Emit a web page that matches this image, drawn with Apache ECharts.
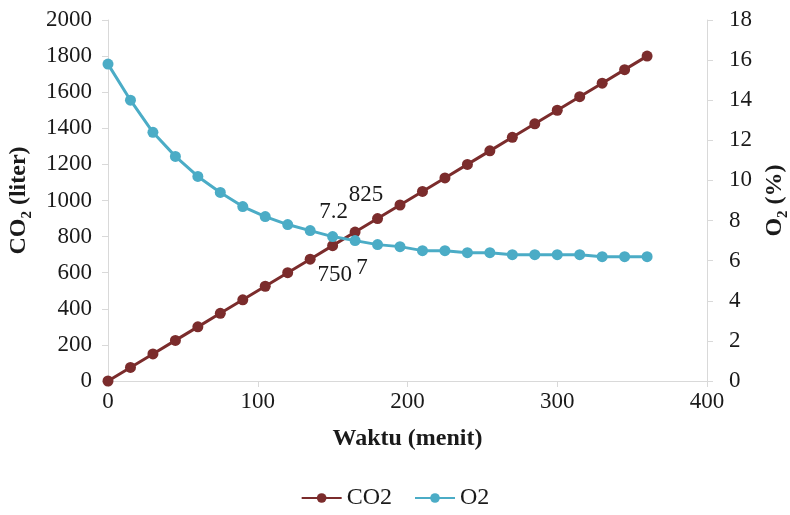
<!DOCTYPE html>
<html>
<head>
<meta charset="utf-8">
<script src="https://cdn.jsdelivr.net/npm/echarts@6/dist/echarts.min.js"></script>
<style>html,body{margin:0;padding:0;background:#fff}#c{width:790px;height:515px}</style>
</head>
<body>
<div id="c"></div>
<script>
var time = [0,15,30,45,60,75,90,105,120,135,150,165,180,195,210,225,240,255,270,285,300,315,330,345,360];
var co2 = [0,75,150,225,300,375,450,525,600,675,750,825,900,975,1050,1125,1200,1275,1350,1425,1500,1575,1650,1725,1800];
var o2 = [15.8,14.0,12.4,11.2,10.2,9.4,8.7,8.2,7.8,7.5,7.2,7.0,6.8,6.7,6.5,6.5,6.4,6.4,6.3,6.3,6.3,6.3,6.2,6.2,6.2];
var xTicks = [0,100,200,300,400];
var leftTicks = [0,200,400,600,800,1000,1200,1400,1600,1800,2000];
var rightTicks = [0,2,4,6,8,10,12,14,16,18];

var FONT = '"Liberation Serif","Times New Roman",serif';
var TXT = '#1a1a1a';
var AX = '#d9d9d9';
var C_CO2 = '#7b2c2c';
var C_O2 = '#4bacc6';
var FS = 23;

var co2Labels = {10: [2, 29], 11: [11, -37]};
var o2Labels = {10: [1, -25], 11: [7, 27]};

function build(vals, labels) {
  return vals.map(function (v, i) {
    var item = {value: [time[i], v]};
    if (labels[i]) {
      item.label = {show: true, position: 'inside', offset: labels[i],
        formatter: String(v), fontFamily: FONT, fontSize: FS, color: TXT};
    }
    return item;
  });
}
function plain(v) { return String(v); }

var nameRich = {
  a: {fontFamily: FONT, fontSize: 24, fontWeight: 'bold', color: TXT, lineHeight: 32, verticalAlign: 'middle'},
  s: {fontFamily: FONT, fontSize: 15, fontWeight: 'bold', color: TXT, lineHeight: 15, verticalAlign: 'bottom'}
};

var chart = echarts.init(document.getElementById('c'), null, {renderer: 'canvas'});
chart.setOption({
  animation: false,
  backgroundColor: '#fff',
  grid: {left: 108, right: 83, top: 20, bottom: 134, containLabel: false, outerBoundsMode: 'none'},
  legend: {
    bottom: 0, left: 'center', itemWidth: 40, itemHeight: 12, itemGap: 22,
    textStyle: {fontFamily: FONT, fontSize: 24, color: TXT},
    data: ['CO2', 'O2']
  },
  xAxis: {
    type: 'value', min: xTicks[0], max: xTicks[xTicks.length - 1], interval: 100,
    name: 'Waktu (menit)', nameLocation: 'middle', nameGap: 46,
    nameTextStyle: {fontFamily: FONT, fontSize: 24, fontWeight: 'bold', color: TXT},
    axisLine: {show: true, lineStyle: {color: AX, width: 1}},
    axisTick: {show: true, length: 6, lineStyle: {color: AX}},
    axisLabel: {fontFamily: FONT, fontSize: FS, color: TXT, margin: 9, formatter: plain},
    splitLine: {show: false}
  },
  yAxis: [{
    type: 'value', position: 'left', min: leftTicks[0], max: leftTicks[leftTicks.length - 1], interval: 200,
    name: '{a|CO}{s|2}{a| (liter)}', nameLocation: 'middle', nameGap: 66, nameRotate: 90,
    nameTextStyle: {rich: nameRich},
    axisLine: {show: true, lineStyle: {color: AX, width: 1}},
    axisTick: {show: true, length: 6, lineStyle: {color: AX}},
    axisLabel: {fontFamily: FONT, fontSize: FS, color: TXT, margin: 16, formatter: plain},
    splitLine: {show: false}
  }, {
    type: 'value', position: 'right', min: rightTicks[0], max: rightTicks[rightTicks.length - 1], interval: 2,
    name: '{a|O}{s|2}{a| (%)}', nameLocation: 'middle', nameGap: 52, nameRotate: 90,
    nameTextStyle: {rich: nameRich},
    axisLine: {show: true, lineStyle: {color: AX, width: 1}},
    axisTick: {show: true, length: 6, lineStyle: {color: AX}},
    axisLabel: {fontFamily: FONT, fontSize: FS, color: TXT, margin: 22, formatter: plain},
    splitLine: {show: false}
  }],
  series: [{
    name: 'CO2', type: 'line', yAxisIndex: 0,
    data: build(co2, co2Labels),
    symbol: 'circle', symbolSize: 11, showSymbol: true,
    lineStyle: {color: C_CO2, width: 3},
    itemStyle: {color: C_CO2},
    z: 2
  }, {
    name: 'O2', type: 'line', yAxisIndex: 1,
    data: build(o2, o2Labels),
    symbol: 'circle', symbolSize: 11, showSymbol: true,
    lineStyle: {color: C_O2, width: 3},
    itemStyle: {color: C_O2},
    z: 3
  }]
});
</script>
</body>
</html>
